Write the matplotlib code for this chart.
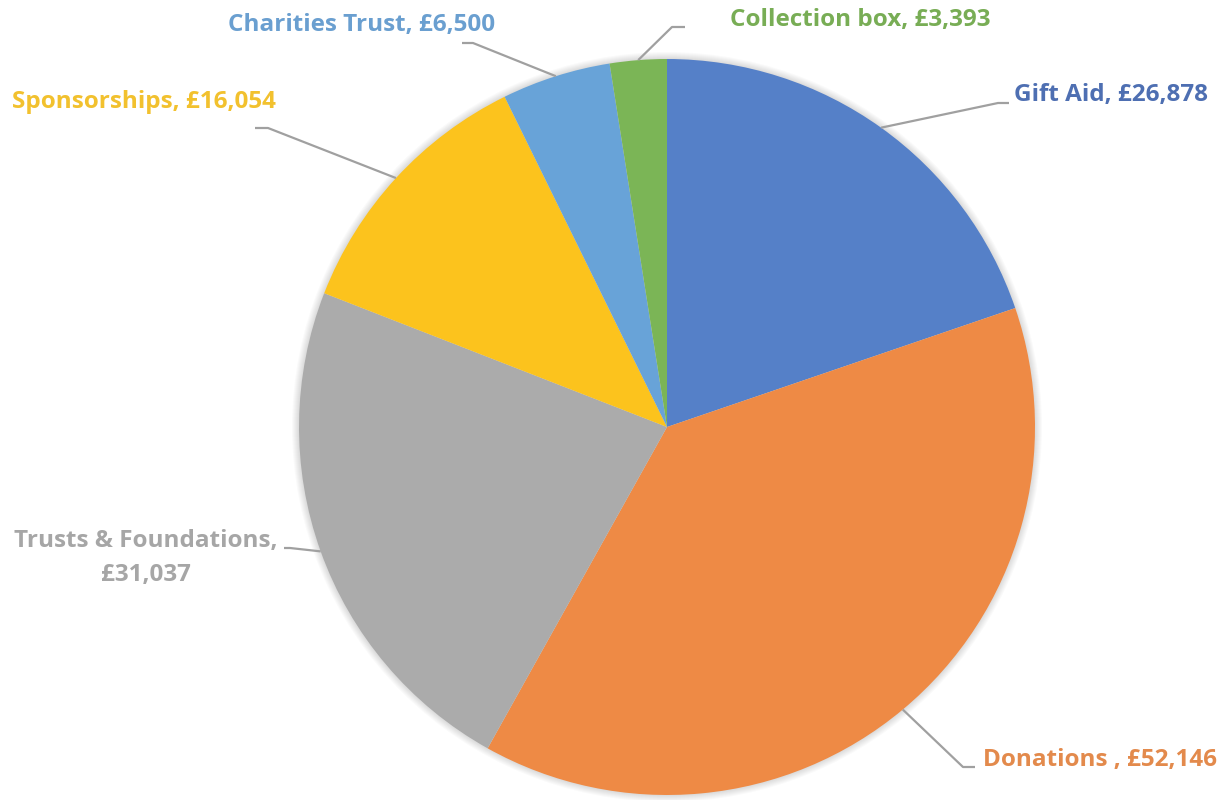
"""Pie chart of income sources with Excel-style leader-line labels."""

import numpy as np
import matplotlib.pyplot as plt
from matplotlib.patches import Circle

# Income data
categories = ["Gift Aid", "Donations ", "Trusts & Foundations", "Sponsorships",
              "Charities Trust", "Collection box"]
values = [26878, 52146, 31037, 16054, 6500, 3393]

wedge_colors = ["#5580C8", "#EE8A45", "#ABABAB", "#FCC31D", "#68A3D8", "#7BB556"]
text_colors = ["#4E6FB2", "#E38A4C", "#A6A6A6", "#F2C12E", "#6A9FD0", "#78AD55"]

# Layout in pixel space (y measured from top of the image)
W, H = 1224, 800
CENTER = (667, 427)
RADIUS = 368

# label anchor (x, y, ha), elbow point and end point of the leader
label_layout = [
    dict(xy=(1014, 95), ha="left", elbow=(998, 103), end=(1009, 103)),
    dict(xy=(983, 760), ha="left", elbow=(963, 767), end=(975, 767)),
    dict(xy=(146, 558), ha="center", elbow=(290, 548), end=(284, 548)),
    dict(xy=(12, 102), ha="left", elbow=(268, 128), end=(255, 128)),
    dict(xy=(228, 25), ha="left", elbow=(473, 43), end=(462, 43)),
    dict(xy=(730, 20), ha="left", elbow=(672, 27), end=(685, 27)),
]


def fmt_label(name: str, value: int) -> str:
    if name.startswith("Trusts"):
        return f"{name},\n£{value:,}"
    return f"{name}, £{value:,}"


def main() -> None:
    plt.rcParams["font.family"] = ["Open Sans", "DejaVu Sans"]
    fig = plt.figure(figsize=(W / 100, H / 100), dpi=100)
    ax = fig.add_axes([0, 0, 1, 1])
    ax.set_xlim(0, W)
    ax.set_ylim(0, H)
    ax.set_aspect("equal")
    ax.axis("off")

    cx, cy = CENTER[0], H - CENTER[1]

    # faint drop shadow around the pie
    for k in range(1, 8):
        ax.add_patch(Circle((cx, cy), RADIUS + k, color="#000000",
                            alpha=0.018, lw=0, zorder=0))

    wedges, _ = ax.pie(values, colors=wedge_colors, startangle=90,
                       counterclock=False, center=(cx, cy), radius=RADIUS,
                       wedgeprops=dict(linewidth=0))
    for w in wedges:
        w.set_zorder(2)
    ax.set_xlim(0, W)
    ax.set_ylim(0, H)

    for w, name, val, tcol, lay in zip(wedges, categories, values,
                                       text_colors, label_layout):
        mid = np.deg2rad((w.theta1 + w.theta2) / 2)
        sx = cx + RADIUS * np.cos(mid)
        sy = cy + RADIUS * np.sin(mid)
        ex, ey = lay["elbow"]
        fx, fy = lay["end"]
        ax.plot([sx, ex, fx], [sy, H - ey, H - fy], color="#A0A0A0",
                lw=1.6, zorder=3, solid_capstyle="butt")
        tx, ty = lay["xy"]
        ax.text(tx, H - ty, fmt_label(name, val), ha=lay["ha"], va="center",
                color=tcol, fontsize=17.5, fontweight="bold",
                multialignment="center", linespacing=1.5, zorder=4)

    fig.savefig("out.png", dpi=100, facecolor="white")
    plt.close(fig)


if __name__ == "__main__":
    main()
